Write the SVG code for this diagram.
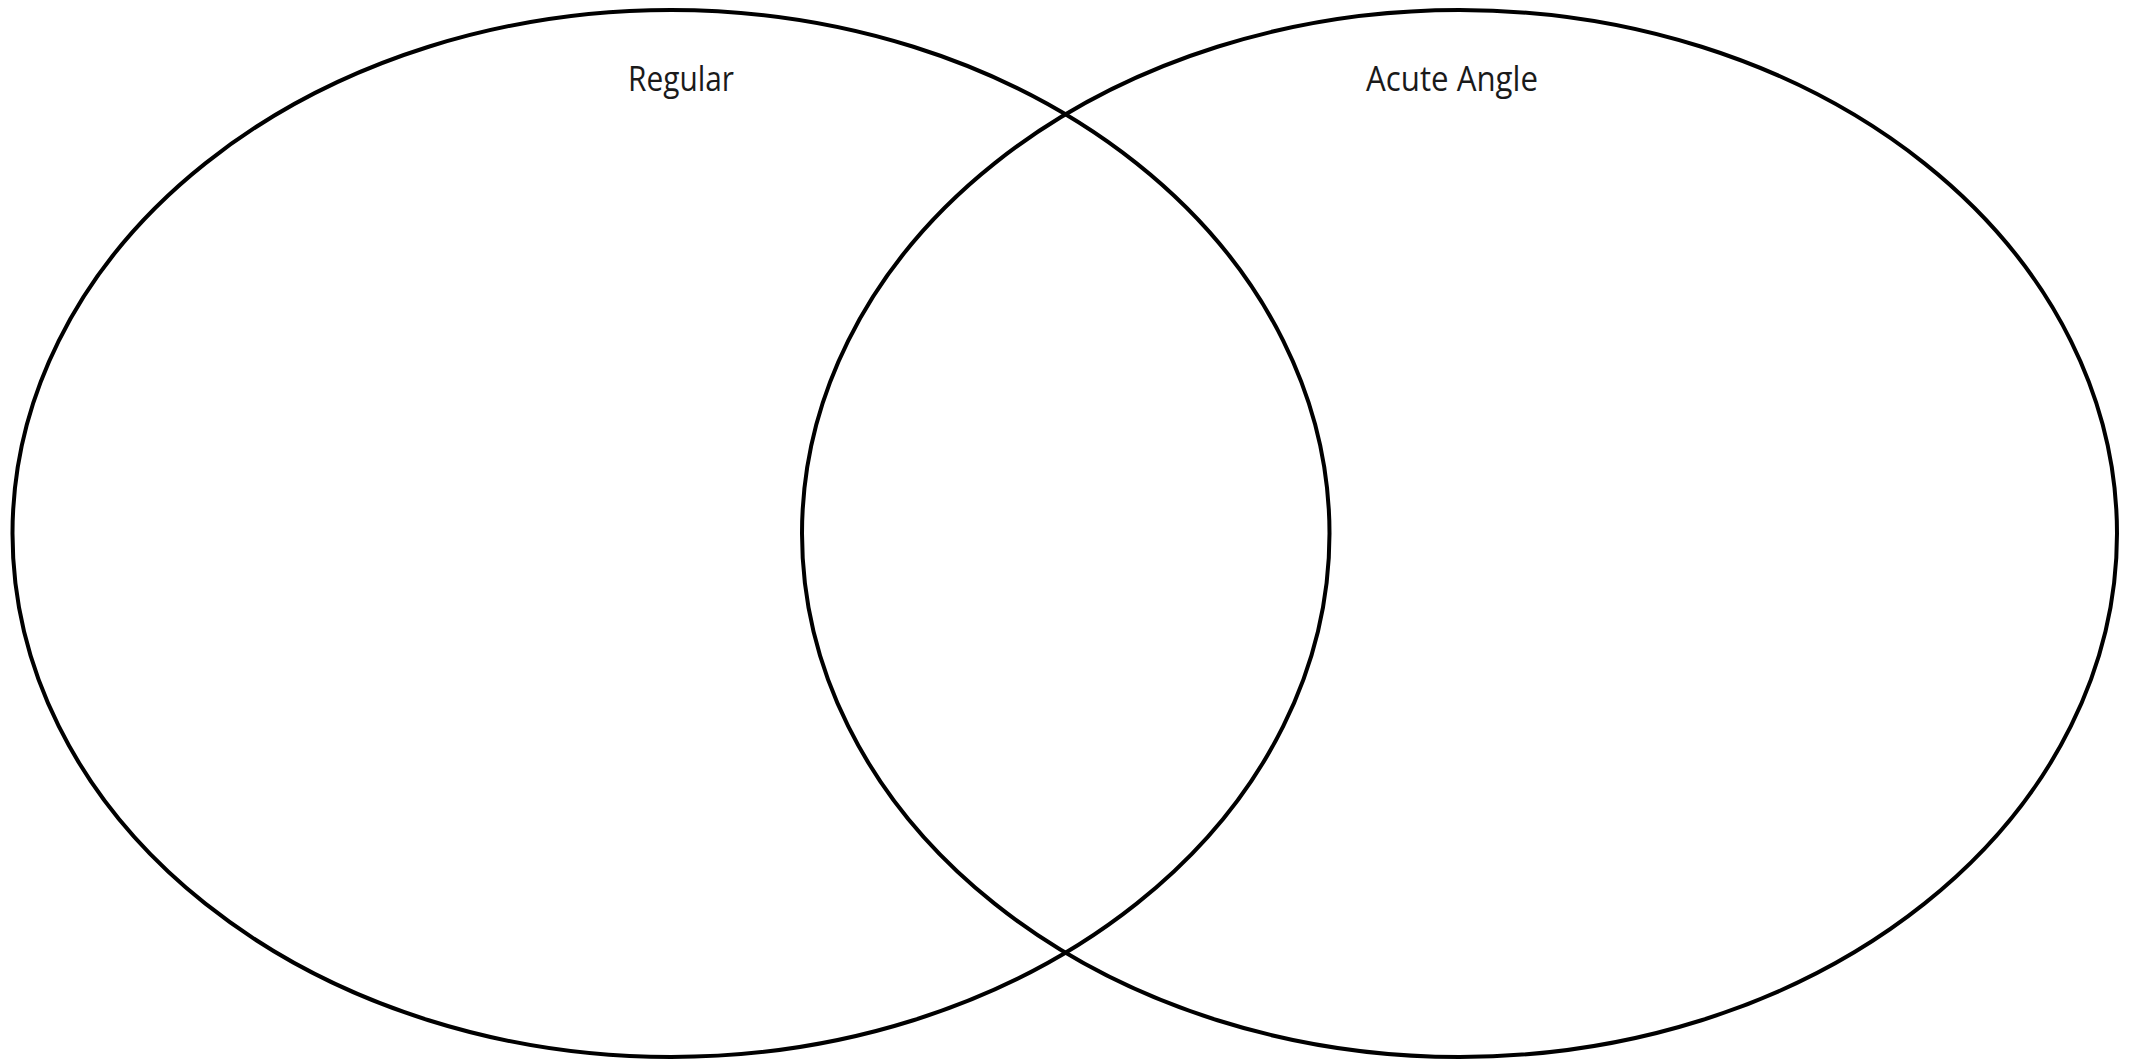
<svg xmlns="http://www.w3.org/2000/svg" width="2132" height="1060" viewBox="0 0 2132 1060">
<style>
.set{fill:none;stroke:#000;stroke-width:4}
.lbl{font-family:"Open Sans","Liberation Sans",sans-serif;font-size:35px;fill:#1a1a1a;text-anchor:middle}
</style>
<rect width="2132" height="1060" fill="#fff"/>
<g id="set-regular">
<ellipse class="set" cx="671" cy="533.5" rx="658.5" ry="523.5"/>
<text class="lbl" x="681" y="91" textLength="106" lengthAdjust="spacingAndGlyphs">Regular</text>
</g>
<g id="set-acute-angle">
<ellipse class="set" cx="1459.5" cy="533.5" rx="657.5" ry="523.5"/>
<text class="lbl" x="1452" y="91" textLength="172" lengthAdjust="spacingAndGlyphs">Acute Angle</text>
</g>
<g id="connectors"/>
</svg>
